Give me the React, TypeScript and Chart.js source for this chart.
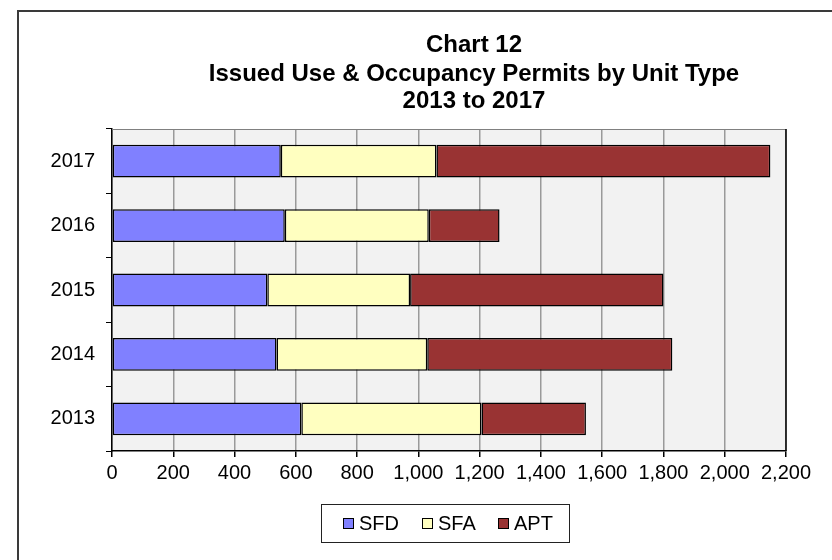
import React, { useEffect, useRef } from "react";
import { Chart, registerables } from "chart.js";

Chart.register(...registerables);

const years = ["2013", "2014", "2015", "2016", "2017"];
const sfd = [618, 537, 507, 564, 551];
const sfa = [588, 492, 466, 470, 508];
const apt = [341, 800, 827, 231, 1090];
const seriesNames = ["SFD", "SFA", "APT"];
const seriesColors = ["#8080ff", "#ffffc0", "#993333"];
const titleLines = ["Chart 12", "Issued Use & Occupancy Permits by Unit Type", "2013 to 2017"];
const xMax = 2200;
const xStep = 200;

const FONT = "'Liberation Sans', Arial, sans-serif";

const framePlugin = {
  id: "frame",
  beforeDraw(chart: any) {
    const { ctx, chartArea } = chart;
    ctx.save();
    ctx.fillStyle = "#ffffff";
    ctx.fillRect(0, 0, chart.width, chart.height);
    ctx.strokeStyle = "#3a3a3a";
    ctx.lineWidth = 2;
    ctx.beginPath();
    ctx.moveTo(18, chart.height);
    ctx.lineTo(18, 11);
    ctx.lineTo(chart.width, 11);
    ctx.stroke();
    ctx.fillStyle = "#f2f2f2";
    ctx.fillRect(chartArea.left, chartArea.top, chartArea.right - chartArea.left, chartArea.bottom - chartArea.top);
    ctx.restore();
  },
  afterDraw(chart: any) {
    const { ctx, chartArea } = chart;
    ctx.save();
    // plot area border
    ctx.lineWidth = 1;
    ctx.strokeStyle = "#808080";
    ctx.beginPath();
    ctx.moveTo(chartArea.left, chartArea.top + 0.5);
    ctx.lineTo(chartArea.right, chartArea.top + 0.5);
    ctx.stroke();
    ctx.strokeStyle = "#000000";
    ctx.lineWidth = 1.5;
    ctx.beginPath();
    ctx.moveTo(chartArea.right, chartArea.top);
    ctx.lineTo(chartArea.right, chartArea.bottom);
    ctx.stroke();

    // title
    ctx.fillStyle = "#000000";
    ctx.font = `bold 24px ${FONT}`;
    ctx.textAlign = "center";
    ctx.textBaseline = "middle";
    const ys = [45, 74, 101];
    titleLines.forEach((t, i) => ctx.fillText(t, 474, ys[i]));

    // legend
    const lx = 321, ly = 504, lw = 248, lh = 38;
    ctx.fillStyle = "#ffffff";
    ctx.fillRect(lx, ly, lw, lh);
    ctx.strokeStyle = "#222222";
    ctx.lineWidth = 1;
    ctx.strokeRect(lx + 0.5, ly + 0.5, lw, lh);
    const itemX = [343, 422, 498];
    const cy = 523;
    ctx.font = `20px ${FONT}`;
    ctx.textAlign = "left";
    ctx.textBaseline = "middle";
    seriesNames.forEach((name, i) => {
      const ds = chart.data.datasets[i];
      ctx.fillStyle = ds.backgroundColor;
      ctx.fillRect(itemX[i], cy - 5, 10, 10);
      ctx.strokeStyle = "#000000";
      ctx.strokeRect(itemX[i] + 0.5, cy - 5 + 0.5, 10, 10);
      ctx.fillStyle = "#000000";
      ctx.fillText(name, itemX[i] + 16, cy + 1);
    });
    ctx.restore();
  },
};

export default function App() {
  const ref = useRef<HTMLCanvasElement | null>(null);
  useEffect(() => {
    if (!ref.current) return;
    const values = [sfd, sfa, apt];
    const chart = new Chart(ref.current, {
      type: "bar",
      data: {
        labels: years,
        datasets: seriesNames.map((name, i) => ({
          label: name,
          data: values[i],
          backgroundColor: seriesColors[i],
          borderColor: "#000000",
          borderWidth: 1.5,
          borderSkipped: false,
          categoryPercentage: 1,
          barPercentage: 0.51,
        })),
      },
      plugins: [framePlugin],
      options: {
        indexAxis: "y",
        animation: false,
        responsive: false,
        maintainAspectRatio: false,
        locale: "en-US",
        layout: { padding: { left: 0, right: 46, top: 129, bottom: 0 } },
        plugins: {
          legend: { display: false },
          title: { display: false },
          tooltip: { enabled: false },
        },
        scales: {
          x: {
            stacked: true,
            min: 0,
            max: xMax,
            ticks: {
              stepSize: xStep,
              color: "#000000",
              font: { family: FONT, size: 20 },
              padding: 4,
              maxRotation: 0,
              autoSkip: false,
            },
            grid: {
              color: "#9a9a9a",
              lineWidth: 1.5,
              tickColor: "#000000",
              tickLength: 6,
            },
            border: { color: "#000000", width: 1.5 },
            afterFit(scale: any) {
              scale.height = 109;
            },
          },
          y: {
            stacked: true,
            reverse: true,
            ticks: {
              color: "#000000",
              font: { family: FONT, size: 20 },
              padding: 11,
            },
            grid: {
              offset: true,
              drawOnChartArea: false,
              tickColor: "#000000",
              tickLength: 6,
            },
            border: { color: "#000000", width: 1.5 },
            afterFit(scale: any) {
              scale.width = 112;
            },
          },
        },
      },
    } as any);
    return () => chart.destroy();
  }, []);
  return (
    <div style={{ position: "fixed", left: 0, top: 0, width: 832, height: 560 }}>
      <canvas ref={ref} width={832} height={560} style={{ display: "block", width: 832, height: 560 }} />
    </div>
  );
}
